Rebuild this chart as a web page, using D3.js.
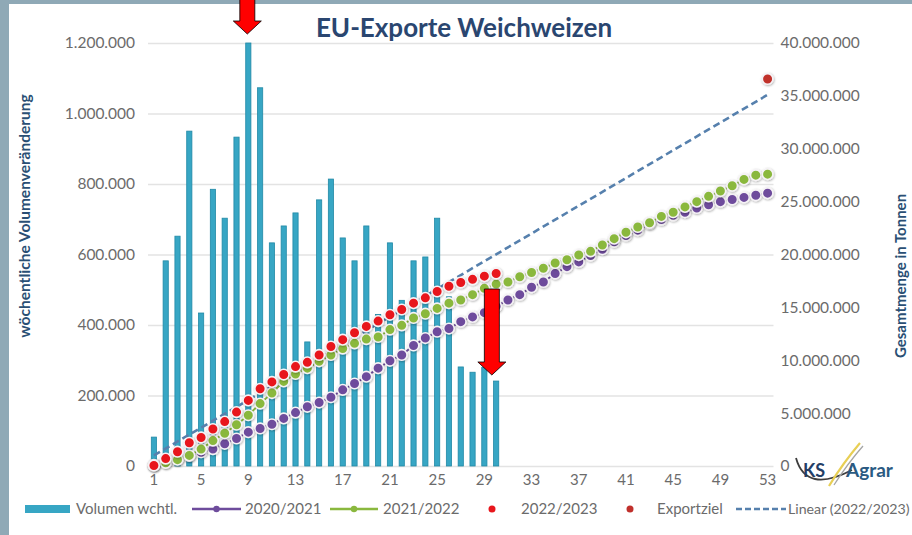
<!DOCTYPE html>
<html>
<head>
<meta charset="utf-8">
<script src="https://cdn.jsdelivr.net/npm/d3@7"></script>
<style>
  body { margin: 0; background: #8fa9b6; }
  svg { display: block; font-family: Lato, "Open Sans", sans-serif; }
</style>
</head>
<body>
<svg id="chart" width="912" height="535"></svg>
<script>
// Kalenderwochen des Wirtschaftsjahres
var weeks = d3.range(1, 54)
var xTicks = [1, 5, 9, 13, 17, 21, 25, 29, 33, 37, 41, 45, 49, 53]
var leftTicks = [0, 200000, 400000, 600000, 800000, 1000000, 1200000]
var rightTicks = [0, 5, 10, 15, 20, 25, 30, 35, 40]   // Mio t

// woechentliche Exporte 2022/2023 in t (KW 1-30)
var volumen = [82000, 582000, 652000, 950000, 434000, 785000, 703000, 933000, 1200000, 1073000,
    633000, 681000, 718000, 352000, 755000, 814000, 647000, 582000, 681000, 430000,
    633000, 470000, 582000, 593000, 703000, 480000, 281000, 266000, 280000, 241000]

// kumulierte Mengen in Mio t
var s2020 = [0.1, 0.35, 0.65, 0.95, 1.3, 1.6, 2.1, 2.6, 3.2, 3.55, 3.95, 4.5, 5.05, 5.6, 6.0, 6.5,
    7.2, 7.8, 8.45, 9.25, 9.95, 10.5, 11.4, 12.1, 12.7, 13.0, 13.65, 14.1, 14.5, 15.1, 15.7, 16.2,
    16.9, 17.4, 18.2, 18.85, 19.3, 19.9, 20.5, 21.2, 21.8, 22.3, 22.9, 23.3, 23.7, 24.0, 24.4, 24.7,
    25.0, 25.2, 25.4, 25.6, 25.8]
var s2021 = [0.05, 0.3, 0.6, 1.0, 1.6, 2.4, 3.1, 3.9, 4.8, 5.9, 6.9, 8.0, 8.7, 9.25, 9.9, 10.5,
    11.1, 11.6, 12.0, 12.2, 12.9, 13.3, 14.0, 14.4, 14.9, 15.4, 15.7, 16.2, 16.8, 17.2, 17.4, 17.9,
    18.3, 18.7, 19.2, 19.5, 19.95, 20.3, 20.9, 21.5, 22.1, 22.6, 23.0, 23.6, 24.0, 24.5, 25.0, 25.5,
    26.0, 26.5, 27.1, 27.5, 27.6]
var s2022 = [0.05, 0.7, 1.35, 2.2, 2.7, 3.5, 4.2, 5.1, 6.2, 7.3, 7.95, 8.65, 9.4, 9.8, 10.5, 11.3,
    11.95, 12.6, 13.2, 13.7, 14.3, 14.8, 15.4, 15.9, 16.5, 17.0, 17.35, 17.65, 17.95, 18.2]
var exportziel = [{ week: 53, value: 36.6 }]
var trend = [{ week: 1, value: 1.0 }, { week: 53, value: 35.1 }]   // Linear (2022/2023)

var dims = { top: 43, bottom: 466, left: 148, right: 773.5 }

var de = d3.formatLocale({ decimal: ",", thousands: ".", grouping: [3], currency: ["", " €"] })
var fmt = de.format(",.0f")

var svg = d3.select("#chart")

svg.append("rect").attr("x", 9).attr("y", 4).attr("width", 903).attr("height", 531).attr("fill", "#fff")

var defs = svg.append("defs")
var shadow = defs.append("filter").attr("id", "shadow").attr("x", "-50%").attr("y", "-50%")
    .attr("width", "200%").attr("height", "200%")
shadow.append("feDropShadow").attr("dx", 0.6).attr("dy", 0.8).attr("stdDeviation", 0.8)
    .attr("flood-color", "#000").attr("flood-opacity", 0.35)

var xScale = d3.scaleBand().domain(weeks).range([dims.left, dims.right]).padding(0)
var yLeft = d3.scaleLinear().domain([0, 1200000]).range([dims.bottom, dims.top])
var yRight = d3.scaleLinear().domain([0, 40]).range([dims.bottom, dims.top])
var cx = w => xScale(w) + xScale.bandwidth() / 2

// gridlines
svg.append("g")
    .attr("transform", `translate(${dims.left},0)`)
    .call(d3.axisLeft(yLeft).tickValues(leftTicks).tickSize(-(dims.right - dims.left)).tickFormat(""))
    .call(g => g.select(".domain").remove())
    .selectAll("line").attr("stroke", "#e3e3e3").attr("stroke-width", 1.3)

// axes
svg.append("g")
    .attr("transform", `translate(${dims.left},0)`)
    .call(d3.axisLeft(yLeft).tickValues(leftTicks).tickSize(0).tickPadding(13).tickFormat(fmt))
    .call(g => g.select(".domain").remove())
    .selectAll("text").attr("font-size", "15.5px").attr("fill", "#6b6b6b").attr("font-family", "Lato")

svg.append("g")
    .attr("transform", `translate(${dims.right},0)`)
    .call(d3.axisRight(yRight).tickValues(rightTicks).tickSize(0).tickPadding(7).tickFormat(v => fmt(v * 1e6)))
    .call(g => g.select(".domain").remove())
    .selectAll("text").attr("font-size", "15.5px").attr("fill", "#6b6b6b").attr("font-family", "Lato")

svg.append("g")
    .attr("transform", `translate(0,${dims.bottom})`)
    .call(d3.axisBottom(xScale).tickValues(xTicks).tickSize(0).tickPadding(8))
    .call(g => g.select(".domain").remove())
    .selectAll("text").attr("font-size", "15px").attr("fill", "#6b6b6b").attr("font-family", "Lato")

// bars
var barW = xScale.bandwidth() * 0.44
svg.append("g").selectAll("rect")
    .data(volumen)
    .enter()
    .append("rect")
    .attr("x", (d, i) => cx(weeks[i]) - barW / 2)
    .attr("y", d => yLeft(d))
    .attr("width", barW)
    .attr("height", d => yLeft(0) - yLeft(d))
    .attr("fill", "#37a6c4")
    .attr("stroke", "#2189a6")
    .attr("stroke-width", 0.8)

// trendline
svg.append("path")
    .datum(trend)
    .attr("d", d3.line().x(d => cx(d.week)).y(d => yRight(d.value)))
    .attr("fill", "none")
    .attr("stroke", "#5680ad")
    .attr("stroke-width", 2.6)
    .attr("stroke-dasharray", "7,4")

function drawSeries(values, color, withLine) {
    var pts = values.map((v, i) => ({ week: weeks[i], value: v }))
    var g = svg.append("g")
    if (withLine) {
        g.append("path")
            .datum(pts)
            .attr("d", d3.line().x(d => cx(d.week)).y(d => yRight(d.value)))
            .attr("fill", "none")
            .attr("stroke", color)
            .attr("stroke-width", 2)
    }
    g.selectAll("circle")
        .data(pts)
        .enter()
        .append("circle")
        .attr("cx", d => cx(d.week))
        .attr("cy", d => yRight(d.value))
        .attr("r", 5.3)
        .attr("fill", color)
        .attr("stroke", "#f6f3f6")
        .attr("stroke-width", 1.6)
        .attr("filter", "url(#shadow)")
}

drawSeries(s2020, "#6e4c9c", true)
drawSeries(s2021, "#8ab83e", true)
drawSeries(s2022, "#e8161c", false)

svg.append("g").selectAll("circle")
    .data(exportziel)
    .enter()
    .append("circle")
    .attr("cx", d => cx(d.week))
    .attr("cy", d => yRight(d.value))
    .attr("r", 5.3)
    .attr("fill", "#c0302c")
    .attr("stroke", "#f6f3f6")
    .attr("stroke-width", 1.6)
    .attr("filter", "url(#shadow)")

// title
svg.append("text")
    .attr("x", 464)
    .attr("y", 37)
    .attr("text-anchor", "middle")
    .attr("font-size", "26px")
    .attr("font-weight", "bold")
    .attr("fill", "#2a4670")
    .text("EU-Exporte Weichweizen")

// axis titles
svg.append("text")
    .attr("transform", "translate(30,216) rotate(-90)")
    .attr("text-anchor", "middle")
    .attr("font-size", "15.5px")
    .attr("font-weight", "bold")
    .attr("fill", "#2a4f74")
    .text("wöchentliche Volumenveränderung")

svg.append("text")
    .attr("transform", "translate(906,276) rotate(-90)")
    .attr("text-anchor", "middle")
    .attr("font-size", "15px")
    .attr("font-weight", "bold")
    .attr("fill", "#2a4f74")
    .text("Gesamtmenge in Tonnen")

// legend
var legY = 509
var leg = svg.append("g").attr("font-size", "15px").attr("fill", "#6b6b6b")
leg.append("rect").attr("x", 25).attr("y", legY - 4).attr("width", 45).attr("height", 8).attr("fill", "#37a6c4")
leg.append("text").attr("x", 76).attr("y", legY + 5).text("Volumen wchtl.")

var lineItems = [{ x1: 192, x2: 241, color: "#6e4c9c", label: "2020/2021", tx: 245 },
    { x1: 330, x2: 378, color: "#8ab83e", label: "2021/2022", tx: 383 }]
lineItems.forEach(it => {
    leg.append("line").attr("x1", it.x1).attr("x2", it.x2).attr("y1", legY).attr("y2", legY)
        .attr("stroke", it.color).attr("stroke-width", 2.5)
    leg.append("circle").attr("cx", (it.x1 + it.x2) / 2).attr("cy", legY).attr("r", 3.2).attr("fill", it.color)
    leg.append("text").attr("x", it.tx).attr("y", legY + 5).text(it.label)
})
leg.append("circle").attr("cx", 492).attr("cy", legY).attr("r", 3.5).attr("fill", "#e8161c")
leg.append("text").attr("x", 521).attr("y", legY + 5).text("2022/2023")
leg.append("circle").attr("cx", 630).attr("cy", legY).attr("r", 3.5).attr("fill", "#c0302c")
leg.append("text").attr("x", 657).attr("y", legY + 5).text("Exportziel")
leg.append("line").attr("x1", 736).attr("x2", 786).attr("y1", legY).attr("y2", legY)
    .attr("stroke", "#5680ad").attr("stroke-width", 2.5).attr("stroke-dasharray", "6,3")
leg.append("text").attr("x", 788).attr("y", legY + 5).attr("font-size", "14.2px").text("Linear (2022/2023)")

// logo
var logo = svg.append("g")
logo.append("path").attr("d", "M796,458 Q806,494 852,470").attr("fill", "none").attr("stroke", "#3d3d3d").attr("stroke-width", 1.8)
logo.append("path").attr("d", "M829,486 Q843,463 860,443").attr("fill", "none").attr("stroke", "#e8cf55").attr("stroke-width", 2.2)
logo.append("path").attr("d", "M834,485 Q848,463 863,446").attr("fill", "none").attr("stroke", "#a5a5a5").attr("stroke-width", 1.3)
logo.append("text").attr("x", 803).attr("y", 477).attr("font-size", "18px").attr("font-weight", "bold").attr("fill", "#243e66").text("KS")
logo.append("text").attr("x", 846).attr("y", 477).attr("font-size", "19px").attr("font-weight", "bold").attr("fill", "#2a5a82").text("Agrar")

// red arrows
function arrow(x, y0, tip) {
    var hw = 14, sw = 7.5, hh = 13
    var p = `M${x - sw},${y0} L${x + sw},${y0} L${x + sw},${tip - hh} L${x + hw},${tip - hh} L${x},${tip} L${x - hw},${tip - hh} L${x - sw},${tip - hh} Z`
    svg.append("path").attr("d", p).attr("fill", "#ff0000").attr("stroke", "#000").attr("stroke-width", 0.8)
}
arrow(cx(9) - 1, -2, 34)
arrow(cx(29) + 7.5, 289, 375)
</script>
</body>
</html>
